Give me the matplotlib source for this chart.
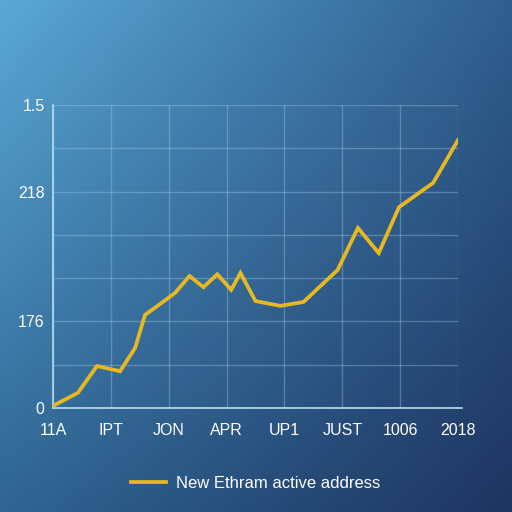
import numpy as np
import matplotlib
matplotlib.use("Agg")
import matplotlib.pyplot as plt
from matplotlib.colors import to_rgb

# data (x in grid units, y in grid units)
x_vals = [0.0, 0.43, 0.76, 1.16, 1.42, 1.59, 1.94, 2.11, 2.36, 2.60, 2.84,
          3.08, 3.24, 3.50, 3.93, 4.33, 4.92, 5.27, 5.63, 5.98, 6.57, 7.0]
y_vals = [0.05, 0.35, 0.97, 0.85, 1.39, 2.15, 2.49, 2.66, 3.05, 2.79, 3.09,
          2.73, 3.12, 2.47, 2.36, 2.45, 3.19, 4.16, 3.58, 4.64, 5.20, 6.19]
x_ticks = [0, 1, 2, 3, 4, 5, 6, 7]
x_labels = ["11A", "IPT", "JON", "APR", "UP1", "JUST", "1006", "2018"]
y_ticks = [0, 2, 5, 7]
y_labels = ["0", "176", "218", "1.5"]
series_name = "New Ethram active address"

plt.rcParams["font.family"] = ["Liberation Sans", "DejaVu Sans"]

fig = plt.figure(figsize=(5.12, 5.12), dpi=100)

# background gradient from four corner colours
tl = np.array(to_rgb("#5aa8d6"))
tr = np.array(to_rgb("#2f5f8e"))
bl = np.array(to_rgb("#2f6592"))
br = np.array(to_rgb("#1e3461"))
n = 256
u = np.linspace(0, 1, n)[None, :, None]
v = np.linspace(0, 1, n)[:, None, None]
grad = (1 - v) * ((1 - u) * tl + u * tr) + v * ((1 - u) * bl + u * br)
bg = fig.add_axes([0, 0, 1, 1])
bg.imshow(grad, aspect="auto", extent=[0, 1, 0, 1], interpolation="bicubic")
bg.axis("off")

ax = fig.add_axes([53 / 512, 1 - 408 / 512, 405 / 512, 303 / 512])
ax.patch.set_alpha(0)
ax.plot(x_vals, y_vals, color="#e8b820", lw=2.7, solid_joinstyle="miter",
        label=series_name, zorder=3)

ax.set_xlim(0, 7)
ax.set_ylim(0, 7)
ax.set_xticks(x_ticks)
ax.set_xticklabels(x_labels)
ax.set_yticks(range(8), minor=False)
ax.set_yticklabels([y_labels[y_ticks.index(t)] if t in y_ticks else "" for t in range(8)])
ax.grid(True, color="#a8d0ee", alpha=0.35, lw=1)
ax.tick_params(length=0, colors="white", labelsize=11.5)
ax.tick_params(axis="x", pad=11)
ax.tick_params(axis="y", pad=6)
for side in ["top", "right"]:
    ax.spines[side].set_visible(False)
for side in ["left", "bottom"]:
    ax.spines[side].set_color("#b8dcf2")
    ax.spines[side].set_linewidth(1.2)
ax.spines["bottom"].set_bounds(0, 7.07)

leg = fig.legend(loc="center", bbox_to_anchor=(0.5, 1 - 483 / 512), frameon=False,
                 fontsize=12, handlelength=2.1, handletextpad=0.6)
for t in leg.get_texts():
    t.set_color("white")

fig.savefig("out.png", dpi=100)
